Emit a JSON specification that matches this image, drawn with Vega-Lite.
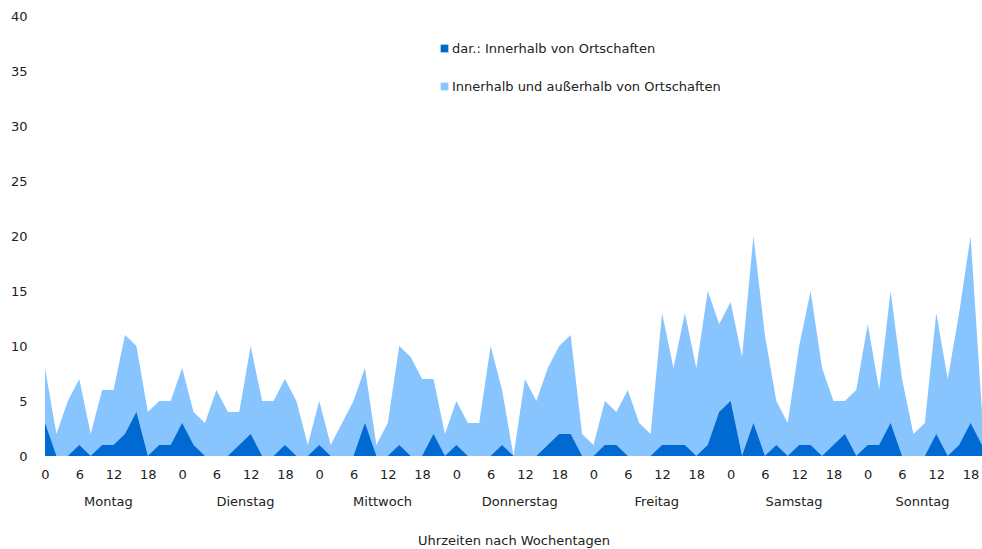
{
  "$schema": "https://vega.github.io/schema/vega-lite/v6.json",
  "width": 937,
  "height": 440,
  "autosize": {"type": "none"},
  "padding": {"left": 45, "top": 16, "right": 0, "bottom": 93},
  "background": "white",
  "config": {"view": {"stroke": null}, "font": "DejaVu Sans"},
  "data": {"values": [
    {"i":0,"t":8,"d":3},{"i":1,"t":2,"d":0},{"i":2,"t":5,"d":0},{"i":3,"t":7,"d":1},{"i":4,"t":2,"d":0},{"i":5,"t":6,"d":1},{"i":6,"t":6,"d":1},{"i":7,"t":11,"d":2},{"i":8,"t":10,"d":4},{"i":9,"t":4,"d":0},{"i":10,"t":5,"d":1},{"i":11,"t":5,"d":1},
    {"i":12,"t":8,"d":3},{"i":13,"t":4,"d":1},{"i":14,"t":3,"d":0},{"i":15,"t":6,"d":0},{"i":16,"t":4,"d":0},{"i":17,"t":4,"d":1},{"i":18,"t":10,"d":2},{"i":19,"t":5,"d":0},{"i":20,"t":5,"d":0},{"i":21,"t":7,"d":1},{"i":22,"t":5,"d":0},{"i":23,"t":1,"d":0},
    {"i":24,"t":5,"d":1},{"i":25,"t":1,"d":0},{"i":26,"t":3,"d":0},{"i":27,"t":5,"d":0},{"i":28,"t":8,"d":3},{"i":29,"t":1,"d":0},{"i":30,"t":3,"d":0},{"i":31,"t":10,"d":1},{"i":32,"t":9,"d":0},{"i":33,"t":7,"d":0},{"i":34,"t":7,"d":2},{"i":35,"t":2,"d":0},
    {"i":36,"t":5,"d":1},{"i":37,"t":3,"d":0},{"i":38,"t":3,"d":0},{"i":39,"t":10,"d":0},{"i":40,"t":6,"d":1},{"i":41,"t":0,"d":0},{"i":42,"t":7,"d":0},{"i":43,"t":5,"d":0},{"i":44,"t":8,"d":1},{"i":45,"t":10,"d":2},{"i":46,"t":11,"d":2},{"i":47,"t":2,"d":0},
    {"i":48,"t":1,"d":0},{"i":49,"t":5,"d":1},{"i":50,"t":4,"d":1},{"i":51,"t":6,"d":0},{"i":52,"t":3,"d":0},{"i":53,"t":2,"d":0},{"i":54,"t":13,"d":1},{"i":55,"t":8,"d":1},{"i":56,"t":13,"d":1},{"i":57,"t":8,"d":0},{"i":58,"t":15,"d":1},{"i":59,"t":12,"d":4},
    {"i":60,"t":14,"d":5},{"i":61,"t":9,"d":0},{"i":62,"t":20,"d":3},{"i":63,"t":11,"d":0},{"i":64,"t":5,"d":1},{"i":65,"t":3,"d":0},{"i":66,"t":10,"d":1},{"i":67,"t":15,"d":1},{"i":68,"t":8,"d":0},{"i":69,"t":5,"d":1},{"i":70,"t":5,"d":2},{"i":71,"t":6,"d":0},
    {"i":72,"t":12,"d":1},{"i":73,"t":6,"d":1},{"i":74,"t":15,"d":3},{"i":75,"t":7,"d":0},{"i":76,"t":2,"d":0},{"i":77,"t":3,"d":0},{"i":78,"t":13,"d":2},{"i":79,"t":7,"d":0},{"i":80,"t":13,"d":1},{"i":81,"t":20,"d":3},{"i":82,"t":4,"d":1}
  ]},
  "encoding": {
    "x": {
      "field": "i",
      "type": "quantitative",
      "scale": {"domain": [0, 82], "nice": false, "zero": false},
      "axis": {
        "values": [0,3,6,9,12,15,18,21,24,27,30,33,36,39,42,45,48,51,54,57,60,63,66,69,72,75,78,81,5.5,17.5,29.5,41.5,53.5,65.5,76.75],
        "labelExpr": "datum.value % 1 != 0 ? ['Montag','Dienstag','Mittwoch','Donnerstag','Freitag','Samstag','Sonntag'][floor(datum.value/12)] : '' + (datum.value % 12) * 2",
        "labelPadding": {"condition": {"test": "datum.value % 1 != 0", "value": 39}, "value": 12},
        "ticks": false,
        "domain": false,
        "grid": false,
        "labelOverlap": false,
        "labelFlush": false,
        "labelBound": false,
        "labelAngle": 0,
        "labelFont": "DejaVu Sans",
        "labelFontSize": 13,
        "labelColor": "#222222",
        "title": "Uhrzeiten nach Wochentagen",
        "titleFont": "DejaVu Sans",
        "titleFontSize": 13,
        "titleFontWeight": "normal",
        "titleColor": "#222222",
        "titlePadding": 26
      }
    }
  },
  "layer": [
    {
      "mark": {"type": "area", "interpolate": "linear"},
      "encoding": {
        "y": {
          "field": "t",
          "type": "quantitative",
          "scale": {"domain": [0, 40], "nice": false},
          "axis": {"values": [0,5,10,15,20,25,30,35,40], "title": null, "ticks": false, "domain": false, "grid": false, "labelPadding": 18, "labelFont": "DejaVu Sans", "labelFontSize": 13, "labelColor": "#222222"}
        },
        "color": {
          "datum": "Innerhalb und außerhalb von Ortschaften",
          "scale": {"domain": ["dar.: Innerhalb von Ortschaften", "Innerhalb und außerhalb von Ortschaften"], "range": ["#0069d2", "#88c4fd"]},
          "legend": {"orient": "none", "legendX": 393, "legendY": 26, "title": null, "symbolType": "square", "symbolSize": 60, "symbolStrokeWidth": 0, "labelFont": "DejaVu Sans", "labelFontSize": 13, "labelColor": "#222222", "labelLimit": 400, "rowPadding": 24, "labelOffset": 1, "padding": 0}
        }
      }
    },
    {
      "mark": {"type": "area", "interpolate": "linear"},
      "encoding": {
        "y": {"field": "d", "type": "quantitative", "axis": {"values": [0,5,10,15,20,25,30,35,40], "title": null, "ticks": false, "domain": false, "grid": false, "labelPadding": 18, "labelFont": "DejaVu Sans", "labelFontSize": 13, "labelColor": "#222222"}},
        "color": {"datum": "dar.: Innerhalb von Ortschaften"}
      }
    }
  ]
}
